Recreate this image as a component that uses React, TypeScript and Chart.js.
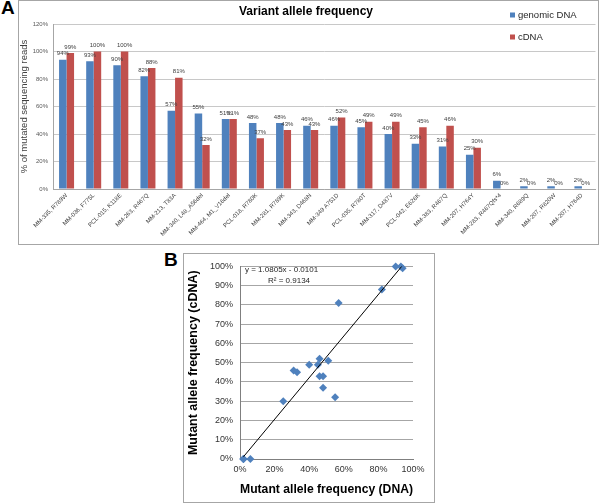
import React, { useEffect, useRef } from "react";
import { Chart, registerables } from "chart.js";

Chart.register(...registerables);

const FAM = "'Liberation Sans', Arial, Helvetica, sans-serif";

// ---- Panel A data ----
const categories = [
  "MM-335, R789W",
  "MM-036, F775L",
  "PCL-015, K118E",
  "MM-263, R467Q",
  "MM-213, T83A",
  "MM-340, L48_A56del",
  "MM-464, M1_V16del",
  "PCL-018, R780K",
  "MM-281, R789K",
  "MM-343, D468N",
  "MM-349 A751D",
  "PCL-035, R780T",
  "MM-317, D487V",
  "PCL-042, E626K",
  "MM-383, R467Q",
  "MM-207, H764Y",
  "MM-283, R467Qfs*4",
  "MM-340, R689Q",
  "MM-207, R820W",
  "MM-207, H764D",
];
const genomicDNA = [94, 93, 90, 82, 57, 55, 51, 48, 48, 46, 46, 45, 40, 33, 31, 25, 6, 2, 2, 2];
const cDNA = [99, 100, 100, 88, 81, 32, 51, 37, 43, 43, 52, 49, 49, 45, 46, 30, 0, 0, 0, 0];
const barAxisMax = 120;
const barAxisStep = 20;

// ---- Panel B data ----
const scatterDNA = [94, 93, 90, 82, 57, 55, 51, 48, 48, 46, 46, 45, 40, 33, 31, 25, 6, 2, 2, 2];
const scatterCDNA = [99, 100, 100, 88, 81, 32, 51, 37, 43, 43, 52, 49, 49, 45, 46, 30, 0, 0, 0, 0];
const trendSlope = 1.0805;
const trendIntercept = -0.0101;
const rSquared = 0.9134;
const scatterXStep = 20;
const scatterYStep = 10;

const BLUE = "#4F81BD";
const RED = "#C0504D";

const barLabelsPlugin = {
  id: "barLabels",
  afterDatasetsDraw(chart: any) {
    const ctx = chart.ctx;
    ctx.save();
    ctx.font = `6px ${FAM}`;
    ctx.fillStyle = "#404040";
    ctx.textAlign = "center";
    ctx.textBaseline = "middle";
    chart.data.datasets.forEach((ds: any, i: number) => {
      const meta = chart.getDatasetMeta(i);
      meta.data.forEach((bar: any, j: number) => {
        ctx.fillText(`${ds.data[j]}%`, bar.x, bar.y - 6);
      });
    });
    ctx.restore();
  },
};

const titleLegendPlugin = {
  id: "titleLegendA",
  afterDraw(chart: any) {
    const ctx = chart.ctx;
    ctx.save();
    ctx.font = `bold 12px ${FAM}`;
    ctx.fillStyle = "#000";
    ctx.textAlign = "center";
    ctx.textBaseline = "middle";
    ctx.fillText("Variant allele frequency", 287, 11);
    const items = chart.data.datasets.map((d: any) => ({ label: d.label, color: d.backgroundColor }));
    ctx.font = `9.5px ${FAM}`;
    ctx.textAlign = "left";
    items.forEach((it: any, k: number) => {
      const y = 14 + k * 22;
      ctx.fillStyle = it.color;
      ctx.fillRect(491, y - 2.5, 5, 5);
      ctx.fillStyle = "#262626";
      ctx.fillText(it.label, 499, y + 0.5);
    });
    ctx.restore();
  },
};

const equationPlugin = {
  id: "equationB",
  afterDraw(chart: any) {
    const ctx = chart.ctx;
    const a = chart.chartArea;
    ctx.save();
    ctx.font = `8px ${FAM}`;
    ctx.fillStyle = "#262626";
    ctx.textAlign = "left";
    ctx.textBaseline = "middle";
    const sign = trendIntercept < 0 ? "-" : "+";
    ctx.fillText(`y = ${trendSlope}x ${sign} ${Math.abs(trendIntercept)}`, a.left + 5, a.top + 3.5);
    ctx.fillText(`R² = ${rSquared}`, a.left + 28, a.top + 14.5);
    ctx.restore();
  },
};

export default function App() {
  const aRef = useRef<HTMLCanvasElement | null>(null);
  const bRef = useRef<HTMLCanvasElement | null>(null);

  useEffect(() => {
    const chartA = new Chart(aRef.current as HTMLCanvasElement, {
      type: "bar",
      data: {
        labels: categories,
        datasets: [
          { label: "genomic DNA", data: genomicDNA, backgroundColor: BLUE, categoryPercentage: 0.553, barPercentage: 1 },
          { label: "cDNA", data: cDNA, backgroundColor: RED, categoryPercentage: 0.553, barPercentage: 1 },
        ],
      },
      options: {
        responsive: false,
        animation: false,
        devicePixelRatio: 1,
        layout: { padding: { top: 23, right: 2.5, left: 0, bottom: 0 } },
        plugins: { legend: { display: false }, title: { display: false }, tooltip: { enabled: false } },
        scales: {
          x: {
            grid: { display: false, drawTicks: false },
            border: { color: "#A6A6A6" },
            ticks: {
              autoSkip: false,
              minRotation: 45,
              maxRotation: 45,
              padding: 3,
              font: { size: 6, family: FAM },
              color: "#404040",
            },
            afterFit: (s: any) => {
              s.height = 55;
            },
          },
          y: {
            min: 0,
            max: barAxisMax,
            ticks: {
              stepSize: barAxisStep,
              callback: (v: any) => `${v}%`,
              padding: 5,
              font: { size: 6, family: FAM },
              color: "#595959",
            },
            grid: { color: "#C8C8C8", drawTicks: false },
            border: { color: "#A6A6A6" },
            title: {
              display: true,
              text: "% of mutated sequencing reads",
              font: { size: 9.5, family: FAM },
              color: "#404040",
              padding: { top: 0, bottom: 0 },
            },
            afterFit: (s: any) => {
              s.width = 34;
            },
          },
        },
      },
      plugins: [barLabelsPlugin, titleLegendPlugin],
    } as any);

    const xs = scatterDNA;
    const tMin = Math.min(...xs);
    const tMax = Math.max(...xs);
    const trendPoints = [tMin, tMax].map((x) => ({ x, y: 100 * (trendSlope * (x / 100) + trendIntercept) }));

    const chartB = new Chart(bRef.current as HTMLCanvasElement, {
      type: "scatter",
      data: {
        datasets: [
          {
            label: "Linear trend",
            data: trendPoints,
            showLine: true,
            borderColor: "#000",
            borderWidth: 1,
            pointRadius: 0,
            fill: false,
          },
          {
            label: "Mutant allele frequency",
            data: scatterDNA.map((x, i) => ({ x, y: scatterCDNA[i] })),
            pointStyle: "rectRot",
            pointRadius: 4,
            backgroundColor: BLUE,
            borderColor: BLUE,
            borderWidth: 0,
            clip: false,
          },
        ],
      },
      options: {
        responsive: false,
        animation: false,
        devicePixelRatio: 1,
        layout: { padding: { top: 9.5, right: 21, left: 0, bottom: 0 } },
        plugins: { legend: { display: false }, title: { display: false }, tooltip: { enabled: false } },
        scales: {
          x: {
            type: "linear",
            min: 0,
            max: 100,
            ticks: {
              stepSize: scatterXStep,
              callback: (v: any) => `${v}%`,
              padding: 5.5,
              font: { size: 9, family: FAM },
              color: "#333333",
            },
            grid: { drawOnChartArea: false, drawTicks: false },
            border: { color: "#7F7F7F" },
            title: {
              display: true,
              text: "Mutant allele frequency (DNA)",
              font: { size: 12.5, weight: "bold", family: FAM },
              color: "#000",
              padding: { top: 0, bottom: 4.5 },
            },
            afterFit: (s: any) => {
              s.height = 43;
            },
          },
          y: {
            min: 0,
            max: 100,
            ticks: {
              stepSize: scatterYStep,
              callback: (v: any) => `${v}%`,
              padding: 7,
              font: { size: 9, family: FAM },
              color: "#333333",
            },
            grid: { color: "#A6A6A6", drawTicks: false },
            border: { color: "#7F7F7F" },
            title: {
              display: true,
              text: "Mutant allele frequency (cDNA)",
              font: { size: 12.5, weight: "bold", family: FAM },
              color: "#000",
              padding: { top: 2.5, bottom: 0 },
            },
            afterFit: (s: any) => {
              s.width = 56;
            },
          },
        },
      },
      plugins: [equationPlugin],
    } as any);

    return () => {
      chartA.destroy();
      chartB.destroy();
    };
  }, []);

  return (
    <div
      style={{
        position: "absolute",
        left: 0,
        top: 0,
        width: 600,
        height: 504,
        background: "#fff",
        fontFamily: FAM,
        overflow: "hidden",
      }}
    >
      <div style={{ position: "absolute", left: 1, top: -2, fontSize: 19, fontWeight: "bold", lineHeight: "20px", color: "#000" }}>A</div>
      <div
        style={{
          position: "absolute",
          left: 18,
          top: 0,
          width: 581,
          height: 245,
          border: "1px solid #A6A6A6",
          boxSizing: "border-box",
        }}
      >
        <canvas ref={aRef} width={579} height={243} style={{ display: "block" }} />
      </div>
      <div style={{ position: "absolute", left: 164, top: 250, fontSize: 19, fontWeight: "bold", lineHeight: "20px", color: "#000" }}>B</div>
      <div
        style={{
          position: "absolute",
          left: 183,
          top: 253,
          width: 252,
          height: 250,
          border: "1px solid #A6A6A6",
          boxSizing: "border-box",
        }}
      >
        <canvas ref={bRef} width={250} height={248} style={{ display: "block" }} />
      </div>
    </div>
  );
}
